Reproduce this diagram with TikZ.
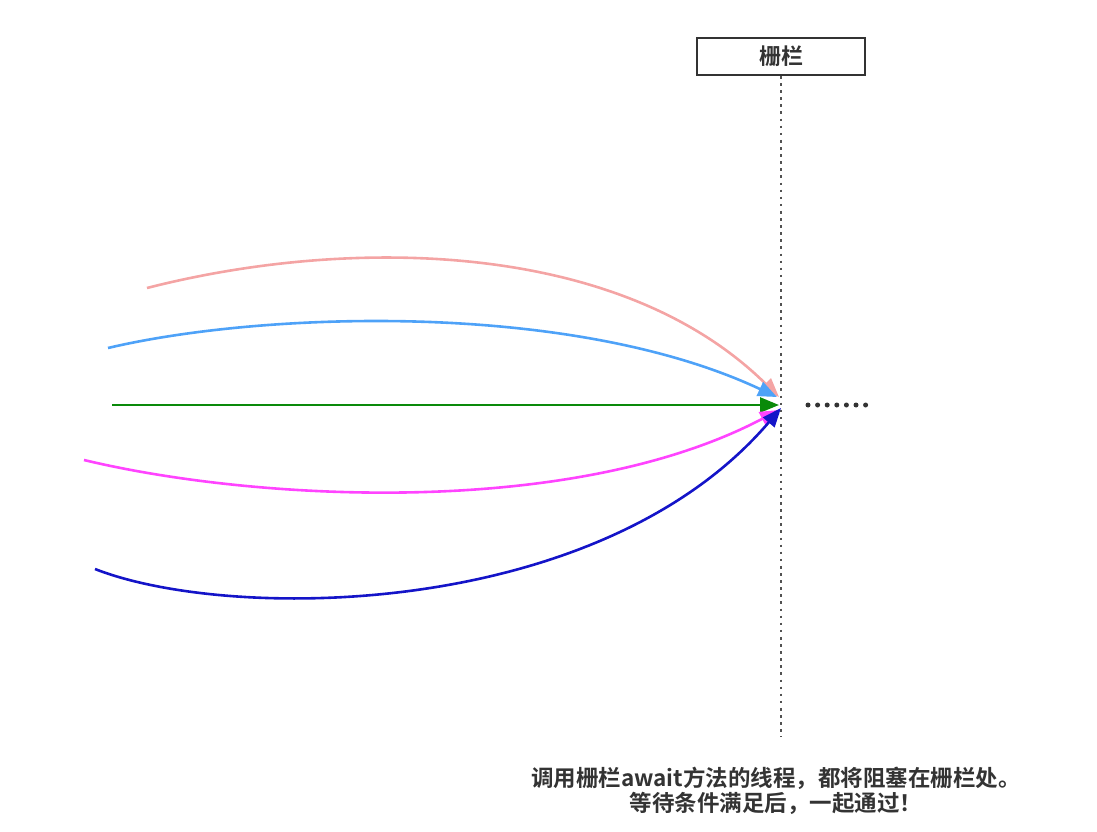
\documentclass[tikz,border=0pt]{standalone}
\usepackage{fontspec}
\newfontfamily\cjk{Noto Sans CJK SC}[BoldFont={Noto Sans CJK SC Bold}]
\usepackage{xcolor}
\usetikzlibrary{arrows.meta,positioning,calc}
\definecolor{darktext}{HTML}{333333}
\definecolor{threadpink}{HTML}{F4A4A4}
\definecolor{threadblue}{HTML}{4EA2F8}
\definecolor{threadgreen}{HTML}{0A8A0A}
\definecolor{threadmagenta}{HTML}{FF44FF}
\definecolor{threadnavy}{HTML}{1414C8}

\begin{document}
\begin{tikzpicture}[
  x=1pt,y=-1pt,
  barrier/.style={rectangle,draw=darktext,line width=2pt,minimum width=168pt,minimum height=37pt,
    font=\cjk\bfseries\fontsize{22}{24}\selectfont,text=darktext},
  thread/.style={-{Triangle[length=19pt,width=15pt]},line width=2.6pt},
  fence/.style={draw=darktext!85,line width=2.6pt,dash pattern=on 2.6pt off 4.5pt},
  note/.style={font=\cjk\bfseries\fontsize{22.5}{25}\selectfont,text=darktext,align=center}
]
\useasboundingbox (0,0) rectangle (1097,832);
\node[barrier] (bar) at (781,56.5) {栅栏};
\coordinate (fenceend) at (781,737);
\draw[fence] (bar.south) -- (fenceend);
% dots after the barrier
\coordinate (dotsA) at (808,405);
\coordinate (dotsB) at (868,405);
\draw[darktext,line width=5pt,line cap=round,dash pattern=on 0pt off 9.6pt] (dotsA) -- (dotsB);
% thread starts and ends
\coordinate (s1) at (147,288);
\coordinate (s2) at (108,348);
\coordinate (s3) at (112,405);
\coordinate (s4) at (84,460);
\coordinate (s5) at (95,569);
\coordinate (e1) at (779,397);
\coordinate (e2) at (777,397);
\coordinate (e3) at (779,405);
\coordinate (e4) at (779,410);
\coordinate (e5) at (781,408);
\draw[thread,threadpink] (s1) .. controls (350,236) and (620,240) .. (e1);
\draw[thread,threadblue] (s2) .. controls (260,312) and (570,300) .. (e2);
\draw[thread,threadgreen] (s3) -- (e3);
\draw[thread,threadmagenta] (s4) .. controls (250,500) and (570,520) .. (e4);
\draw[thread,threadnavy] (s5) .. controls (230,622) and (600,620) .. (e5);
\node[note] (msg) at (776,791) {调用栅栏await方法的线程，都将阻塞在栅栏处。\\等待条件满足后，一起通过！};
\end{tikzpicture}
\end{document}
